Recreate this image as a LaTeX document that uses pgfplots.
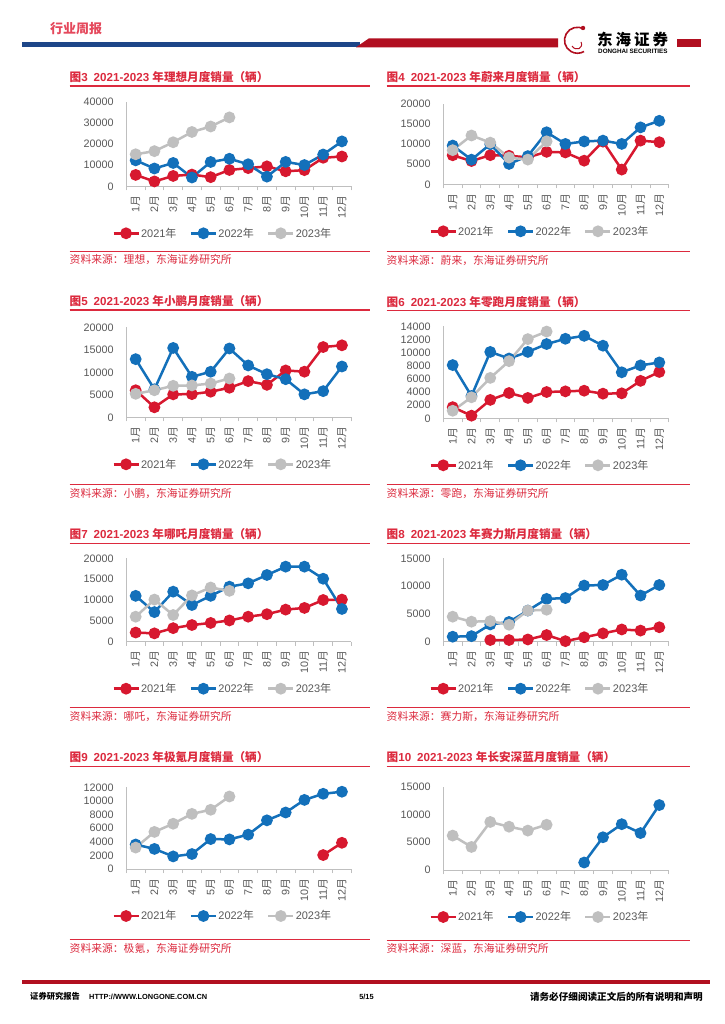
\documentclass[border=0pt]{standalone}
\usepackage{fontspec}
\setmainfont{Liberation Sans}
\newfontfamily\cjk{Noto Sans CJK SC}
\usepackage{pgfplots}
\pgfplotsset{compat=1.18}

\definecolor{c21}{HTML}{D7182F}
\definecolor{c22}{HTML}{1370BA}
\definecolor{c23}{HTML}{BFBFBF}
\definecolor{ttl}{HTML}{DC2A3E}
\definecolor{axg}{HTML}{BFBFBF}
\definecolor{lab}{HTML}{595959}
\definecolor{hblue}{HTML}{1D4688}
\definecolor{hred}{HTML}{B10F20}
\definecolor{hpink}{HTML}{E5485C}

\newcommand\C[1]{{\cjk #1}}
\newcommand\tfont{\fontsize{10.8}{12}\selectfont}
\newcommand\titfont{\fontsize{11.6}{13}\selectfont\bfseries}
\newcommand\srcfont{\fontsize{10.8}{12}\selectfont}

\pgfplotsset{
  monthly/.style={
    scale only axis, width=225pt, clip=false,
    xmin=0.5, xmax=12.5, ymin=0,
    axis lines*=left, axis line style={draw=axg, line width=0.8pt, -},
    xtick={1,...,12},
    xticklabels={1\C{月},2\C{月},3\C{月},4\C{月},5\C{月},6\C{月},7\C{月},8\C{月},9\C{月},10\C{月},11\C{月},12\C{月}},
    minor xtick={0.5,1.5,...,12.5},
    tick align=outside, major tick length=0pt, minor tick length=4pt,
    tick style={draw=axg, line width=0.8pt},
    xticklabel style={rotate=90, anchor=east, inner xsep=9pt, font=\tfont, text=lab},
    yticklabel={\pgfmathprintnumber[fixed,precision=0,1000 sep={},assume math mode=true]{\tick}},
    yticklabel style={anchor=east, inner xsep=12.5pt, font=\tfont, text=lab},
    scaled y ticks=false,
    legend columns=3,
    legend style={draw=none, fill=none,
      at={([yshift=-47pt]axis description cs:0.427,0)}, anchor=center,
      font=\fontsize{11}{12}\selectfont, text=lab,
      /tikz/every even column/.append style={column sep=12pt},
      nodes={inner sep=1.2pt}},
    legend image code/.code={\draw[mark repeat=2,mark phase=2,##1] plot coordinates {(0pt,0pt) (12.5pt,0pt) (25pt,0pt)};},
  },
  s21/.style={color=c21, line width=2.5pt, mark=*, mark size=4.6pt, mark options={solid}},
  s22/.style={color=c22, line width=2.5pt, mark=*, mark size=4.6pt, mark options={solid}},
  s23/.style={color=c23, line width=2.5pt, mark=*, mark size=4.6pt, mark options={solid}},
}

% title, rules and source line of one chart panel
\newcommand\chartframe[8]{%
  \node[anchor=west, inner sep=0pt, text=ttl, font=\titfont] at (#1pt,-#3pt) {#7};
  \draw[ttl, line width=1.4pt] (#1pt,-#4pt) -- (#2pt,-#4pt);
  \draw[ttl, line width=0.8pt] (#1pt,-#5pt) -- (#2pt,-#5pt);
  \node[anchor=west, inner sep=0pt, text=ttl, font=\srcfont] at (#1pt,-#6pt) {\C{资料来源：#8，东海证券研究所}};
}
\newcommand\ttl[2]{\C{图}#1\hspace{6pt}2021-2023 \C{年#2月度销量（辆）}}

\begin{document}
\begin{tikzpicture}
\useasboundingbox (0,0) rectangle (724pt,-1024pt);
\fill[white] (0,0) rectangle (724pt,-1024pt);

% ---- header ----
\node[anchor=west, inner sep=0pt, text=hpink, font=\fontsize{13}{14}\selectfont\bfseries] at (50pt,-28.3pt) {\C{行业周报}};
\fill[hblue] (22.3pt,-41.7pt) rectangle (360pt,-47.3pt);
\fill[hred] (356pt,-47.3pt) -- (369pt,-38.3pt) -- (558pt,-38.3pt) -- (558pt,-47.3pt) -- cycle;
\fill[hred] (677pt,-39.3pt) rectangle (701pt,-47.3pt);
\draw[hred, line width=1.6pt] (584pt,-29pt) arc[start angle=60, end angle=300, radius=13pt];
\draw[hred, line width=1pt] (572pt,-46pt) .. controls (576pt,-52pt) and (584pt,-48pt) .. (581pt,-42pt);
\fill[hred] (583pt,-28pt) circle (2.2pt);
\node[anchor=west, inner sep=0pt, font=\fontsize{15.5}{16}\selectfont\bfseries] at (597pt,-39.5pt) {\C{东\hspace{3pt}海\hspace{3pt}证\hspace{3pt}券}};
\node[anchor=west, inner sep=0pt, font=\fontsize{6.3}{7}\selectfont\bfseries] at (598pt,-51.7pt) {DONGHAI SECURITIES};

% ---- footer ----
\fill[hred] (22.4pt,-980pt) rectangle (710pt,-984.3pt);
\node[anchor=west, inner sep=0pt, font=\fontsize{8.3}{9}\selectfont\bfseries] at (30pt,-996.7pt) {\C{证券研究报告}};
\node[anchor=west, inner sep=0pt, font=\fontsize{7.4}{9}\selectfont\bfseries] at (89pt,-996.7pt) {HTTP://WWW.LONGONE.COM.CN};
\node[inner sep=0pt, font=\fontsize{7.4}{9}\selectfont\bfseries] at (366.5pt,-996.7pt) {5/15};
\node[anchor=east, inner sep=0pt, font=\fontsize{9.6}{10}\selectfont\bfseries] at (703pt,-996.7pt) {\C{请务必仔细阅读正文后的所有说明和声明}};

% ---- panel frames ----
\chartframe{69.5}{370}{77}{86}{251}{260}{\ttl{3}{理想}}{理想}
\chartframe{386.5}{690}{77}{86}{251.7}{261}{\ttl{4}{蔚来}}{蔚来}
\chartframe{69.5}{370}{300.7}{310}{484}{493}{\ttl{5}{小鹏}}{小鹏}
\chartframe{386.5}{690}{301.7}{310.7}{484.3}{493}{\ttl{6}{零跑}}{零跑}
\chartframe{69.5}{370}{534}{543.3}{707.3}{716}{\ttl{7}{哪吒}}{哪吒}
\chartframe{386.5}{690}{534}{543.3}{707.3}{716}{\ttl{8}{赛力斯}}{赛力斯}
\chartframe{69.5}{370}{757.3}{766.7}{939.3}{948.3}{\ttl{9}{极氪}}{极氪}
\chartframe{386.5}{690}{757.3}{766.7}{940}{948.3}{\ttl{10}{长安深蓝}}{深蓝}

% ---- Fig 3: Li Auto ----
\begin{axis}[monthly, at={(126.3pt,-186.3pt)}, anchor=south west, height=84.6pt,
  ymax=40000, ytick={0,10000,20000,30000,40000}]
\addplot[s21] coordinates {(1,5379)(2,2300)(3,4900)(4,5539)(5,4323)(6,7713)(7,8589)(8,9433)(9,7094)(10,7649)(11,13485)(12,14087)};
\addlegendentry{2021\C{年}}
\addplot[s22] coordinates {(1,12268)(2,8414)(3,11034)(4,4167)(5,11496)(6,13024)(7,10422)(8,4571)(9,11531)(10,10052)(11,15034)(12,21233)};
\addlegendentry{2022\C{年}}
\addplot[s23] coordinates {(1,15141)(2,16620)(3,20823)(4,25681)(5,28277)(6,32575)};
\addlegendentry{2023\C{年}}
\end{axis}

% ---- Fig 4: NIO ----
\begin{axis}[monthly, at={(443.3pt,-184.3pt)}, anchor=south west, height=80.3pt, width=225.4pt,
  ymax=20000, ytick={0,5000,10000,15000,20000}]
\addplot[s21] coordinates {(1,7225)(2,5800)(3,7257)(4,7102)(5,6711)(6,8083)(7,7931)(8,5880)(9,10628)(10,3667)(11,10878)(12,10489)};
\addlegendentry{2021\C{年}}
\addplot[s22] coordinates {(1,9652)(2,6131)(3,9985)(4,5074)(5,7024)(6,12961)(7,10052)(8,10677)(9,10878)(10,10059)(11,14178)(12,15815)};
\addlegendentry{2022\C{年}}
\addplot[s23] coordinates {(1,8506)(2,12157)(3,10378)(4,6658)(5,6155)(6,10707)};
\addlegendentry{2023\C{年}}
\end{axis}

% ---- Fig 5: XPeng ----
\begin{axis}[monthly, at={(126.3pt,-417.3pt)}, anchor=south west, height=90pt,
  ymax=20000, ytick={0,5000,10000,15000,20000}]
\addplot[s21] coordinates {(1,6015)(2,2223)(3,5102)(4,5147)(5,5686)(6,6565)(7,8040)(8,7214)(9,10412)(10,10138)(11,15613)(12,16000)};
\addlegendentry{2021\C{年}}
\addplot[s22] coordinates {(1,12922)(2,6225)(3,15414)(4,9002)(5,10125)(6,15295)(7,11524)(8,9578)(9,8468)(10,5101)(11,5811)(12,11292)};
\addlegendentry{2022\C{年}}
\addplot[s23] coordinates {(1,5218)(2,6010)(3,7002)(4,7079)(5,7506)(6,8620)};
\addlegendentry{2023\C{年}}
\end{axis}

% ---- Fig 6: Leapmotor ----
\begin{axis}[monthly, at={(443.3pt,-418.3pt)}, anchor=south west, height=92pt, width=225.4pt,
  ymax=14000, ytick={0,2000,4000,6000,8000,10000,12000,14000}]
\addplot[s21] coordinates {(1,1700)(2,400)(3,2800)(4,3850)(5,3100)(6,4000)(7,4100)(8,4200)(9,3750)(10,3800)(11,5700)(12,7050)};
\addlegendentry{2021\C{年}}
\addplot[s22] coordinates {(1,8100)(2,3400)(3,10100)(4,9100)(5,10100)(6,11300)(7,12100)(8,12550)(9,11050)(10,7000)(11,8050)(12,8500)};
\addlegendentry{2022\C{年}}
\addplot[s23] coordinates {(1,1150)(2,3200)(3,6150)(4,8700)(5,12050)(6,13200)};
\addlegendentry{2023\C{年}}
\end{axis}

% ---- Fig 7: Neta ----
\begin{axis}[monthly, at={(126.3pt,-641.7pt)}, anchor=south west, height=83.4pt,
  ymax=20000, ytick={0,5000,10000,15000,20000}]
\addplot[s21] coordinates {(1,2200)(2,2000)(3,3250)(4,4000)(5,4500)(6,5100)(7,6000)(8,6600)(9,7700)(10,8100)(11,10000)(12,10100)};
\addlegendentry{2021\C{年}}
\addplot[s22] coordinates {(1,11000)(2,7100)(3,12000)(4,8800)(5,11000)(6,13200)(7,14000)(8,16000)(9,18000)(10,18000)(11,15100)(12,7850)};
\addlegendentry{2022\C{年}}
\addplot[s23] coordinates {(1,6000)(2,10100)(3,6400)(4,11100)(5,13000)(6,12200)};
\addlegendentry{2023\C{年}}
\end{axis}

% ---- Fig 8: Seres ----
\begin{axis}[monthly, at={(443.3pt,-641.7pt)}, anchor=south west, height=83.4pt, width=225.4pt,
  ymax=15000, ytick={0,5000,10000,15000}]
\addplot[s21] coordinates {(3,300)(4,300)(5,400)(6,1200)(7,100)(8,800)(9,1500)(10,2200)(11,2000)(12,2600)};
\addlegendentry{2021\C{年}}
\addplot[s22] coordinates {(1,900)(2,1000)(3,3100)(4,3550)(5,5600)(6,7700)(7,7850)(8,10100)(9,10200)(10,12050)(11,8300)(12,10200)};
\addlegendentry{2022\C{年}}
\addplot[s23] coordinates {(1,4500)(2,3600)(3,3700)(4,3050)(5,5600)(6,5750)};
\addlegendentry{2023\C{年}}
\end{axis}

% ---- Fig 9: Zeekr ----
\begin{axis}[monthly, at={(126.3pt,-869pt)}, anchor=south west, height=81.7pt,
  ymax=12000, ytick={0,2000,4000,6000,8000,10000,12000}]
\addplot[s21] coordinates {(11,2050)(12,3850)};
\addlegendentry{2021\C{年}}
\addplot[s22] coordinates {(1,3600)(2,2950)(3,1850)(4,2200)(5,4400)(6,4350)(7,5050)(8,7150)(9,8300)(10,10150)(11,11050)(12,11350)};
\addlegendentry{2022\C{年}}
\addplot[s23] coordinates {(1,3150)(2,5450)(3,6650)(4,8100)(5,8700)(6,10650)};
\addlegendentry{2023\C{年}}
\end{axis}

% ---- Fig 10: Deepal ----
\begin{axis}[monthly, at={(443.3pt,-870pt)}, anchor=south west, height=83.3pt, width=225.4pt,
  ymax=15000, ytick={0,5000,10000,15000}]
\addlegendimage{s21}
\addlegendentry{2021\C{年}}
\addplot[s22] coordinates {(8,1350)(9,5900)(10,8250)(11,6650)(12,11700)};
\addlegendentry{2022\C{年}}
\addplot[s23] coordinates {(1,6200)(2,4150)(3,8650)(4,7800)(5,7100)(6,8150)};
\addlegendentry{2023\C{年}}
\end{axis}
\end{tikzpicture}
\end{document}
